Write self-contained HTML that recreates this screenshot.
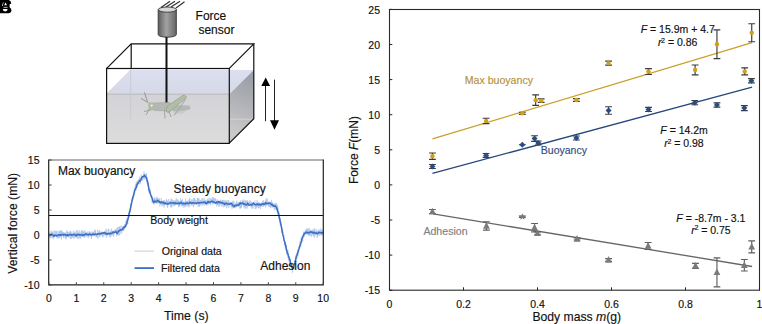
<!DOCTYPE html>
<html><head><meta charset="utf-8">
<style>
html,body{margin:0;padding:0;background:#fff;width:762px;height:324px;overflow:hidden}
svg{display:block;font-family:"Liberation Sans",sans-serif}
text{stroke:currentColor;stroke-width:0.15px;paint-order:stroke}
</style></head>
<body>
<svg width="762" height="324" viewBox="0 0 762 324">
<defs>
<linearGradient id="cyl" x1="0" x2="1" y1="0" y2="0">
<stop offset="0" stop-color="#5e5e5e"/><stop offset="0.45" stop-color="#a2a2a2"/><stop offset="1" stop-color="#666"/>
</linearGradient>
<linearGradient id="front" x1="0" x2="0" y1="0" y2="1">
<stop offset="0" stop-color="#d3d3d7"/><stop offset="1" stop-color="#dcdcdc"/>
</linearGradient>
<linearGradient id="topw" x1="0" x2="0" y1="0" y2="1">
<stop offset="0" stop-color="#dbdff0"/><stop offset="1" stop-color="#d5d8e6"/>
</linearGradient>
<linearGradient id="side" gradientUnits="userSpaceOnUse" x1="232" y1="132" x2="254" y2="78">
<stop offset="0" stop-color="#c9c9ca"/><stop offset="0.55" stop-color="#b0b1b6"/><stop offset="1" stop-color="#9c9ea8"/>
</linearGradient>
</defs>

<!-- panel labels A/B/C overlapped -->
<path d="M0,0 L8.8,0 Q11.3,0.8 11.2,3.4 L9.6,4.6 L9.6,7.2 Q11.6,8.2 11.5,10.8 Q11.2,13 8.6,13.2 L0,13.2 Z" fill="#000"/>
<path d="M5.6,2.5 L7,5.3 L4.2,5.3 Z" fill="#fff"/>
<path d="M1.9,5.9 L3.1,2.3 L3.6,2.5 L2.6,6 Z" fill="#fff"/>
<path d="M3.5,6.9 L7.6,6.9 L7.6,7.6 L3.5,7.6 Z" fill="#fff"/>
<path d="M2.8,9 L7.6,9 Q7.6,11.4 5.2,11.4 Q2.8,11.4 2.8,9 Z" fill="#fff"/>

<!-- ===== tank illustration ===== -->
<polygon points="106.7,94.3 131.2,70 253.8,70 229.3,94.3" fill="url(#topw)"/>
<line x1="106.7" y1="94" x2="131.2" y2="69.5" stroke="#bfc2cc" stroke-width="0.8"/>
<rect x="106.7" y="94.3" width="122.6" height="48.9" fill="url(#front)"/>
<polygon points="229.3,94.3 253.8,70 253.8,118.7 229.3,143.2" fill="url(#side)"/>
<line x1="106.7" y1="94.2" x2="229.3" y2="94.2" stroke="#b4b4ba" stroke-width="1"/>
<line x1="130.7" y1="70" x2="130.7" y2="118.7" stroke="#c4c6d0" stroke-width="0.8"/>
<line x1="229.3" y1="119.2" x2="253.8" y2="119.2" stroke="#d2d2d2" stroke-width="1"/>
<g stroke="#111" stroke-width="1.2" fill="none" stroke-linejoin="miter">
<rect x="106.6" y="68.5" width="122.7" height="74.9"/>
<polyline points="106.7,68.4 131.2,43.9 253.8,43.9 229.3,68.4"/>
<polyline points="253.8,43.9 253.8,118.7 229.3,143.2"/>
<line x1="131.2" y1="43.9" x2="131.2" y2="68.4"/>
</g>
<!-- sensor -->
<g stroke="#333" stroke-width="1.2">
<line x1="161" y1="7.5" x2="170" y2="1.2"/><line x1="166" y1="7" x2="175" y2="1.2"/><line x1="171" y1="7" x2="180" y2="1.2"/><line x1="176" y1="8" x2="184.5" y2="1.8"/>
</g>
<path d="M158.2,9.6 V34.6 A9.05,2.6 0 0 0 176.3,34.6 V9.6 Z" fill="url(#cyl)" stroke="#333" stroke-width="0.9"/>
<ellipse cx="167.25" cy="9.6" rx="9.05" ry="2.6" fill="#d8d8d8" stroke="#333" stroke-width="0.9"/>
<line x1="166.5" y1="37" x2="166.5" y2="104" stroke="#111" stroke-width="2"/>
<!-- grasshopper -->
<g>
<line x1="147.6" y1="102" x2="144.4" y2="92.4" stroke="#8c9088" stroke-width="0.9"/>
<line x1="147.6" y1="102.4" x2="141" y2="98.4" stroke="#8c9088" stroke-width="0.9"/>
<path d="M170,105 L189,105.5 Q191.5,107.5 189.5,109.5 L174,113 Z" fill="#b6b8b4"/>
<path d="M172,111 L186,111.5 Q184,114 176,114 Z" fill="#c8cac6"/>
<path d="M152,103 L170,102.5 L172,106 L171,111 L154,110.5 Z" fill="#b5b7b3" stroke="#9ea09c" stroke-width="0.5"/>
<path d="M167.5,106 L183,95.3 Q186.5,95.3 186.6,97.8 L168.5,112.6 Q166,112.5 166,110 Z" fill="#b2bda8" stroke="#8e9c86" stroke-width="0.6"/>
<path d="M185.5,99.5 L174,115.5" stroke="#a0a49c" stroke-width="1" fill="none"/>
<path d="M148,102.5 Q153,101.5 154.5,104 L154.5,109.5 Q151,111.5 148.5,110 Z" fill="#b0bca6"/>
<circle cx="151.7" cy="105.6" r="1.1" fill="#eef2ea"/>
<path d="M149,109.5 L146,115 M150,110 L144,111.5 M164.5,110 L165,118.5 M169,111 L171,117" stroke="#9a9e98" stroke-width="0.9" fill="none"/>
</g>
<!-- arrows -->
<line x1="265.5" y1="85" x2="265.5" y2="121.2" stroke="#222" stroke-width="1"/>
<polygon points="265.7,77.4 261.3,86 270.1,86" fill="#000"/>
<line x1="274.5" y1="79.6" x2="274.5" y2="121" stroke="#222" stroke-width="1"/>
<polygon points="274.5,129.8 270,120.3 279,120.3" fill="#000"/>
<g font-size="12" fill="#111">
<text x="195.6" y="20.2">Force</text>
<text x="198.4" y="34.4">sensor</text>
</g>

<!-- ===== left chart ===== -->
<path d="M48.90,234.87 L49.04,236.51 L49.17,232.74 L49.31,235.73 L49.45,235.64 L49.59,237.63 L49.72,236.30 L49.86,233.07 L50.00,238.18 L50.13,234.71 L50.27,232.94 L50.41,235.40 L50.55,234.02 L50.68,237.08 L50.82,231.62 L50.96,232.10 L51.10,234.05 L51.23,238.53 L51.37,236.94 L51.51,232.40 L51.64,230.75 L51.78,233.94 L51.92,231.80 L52.06,235.98 L52.19,235.05 L52.33,234.62 L52.47,233.68 L52.60,238.07 L52.74,232.52 L52.88,231.67 L53.02,237.23 L53.15,237.70 L53.29,233.87 L53.43,236.14 L53.57,239.17 L53.70,232.86 L53.84,234.33 L53.98,235.76 L54.11,230.19 L54.25,234.38 L54.39,236.40 L54.53,234.48 L54.66,237.05 L54.80,236.43 L54.94,233.85 L55.07,235.97 L55.21,235.74 L55.35,230.98 L55.49,232.81 L55.62,232.94 L55.76,233.56 L55.90,233.67 L56.04,231.48 L56.17,234.81 L56.31,230.60 L56.45,236.92 L56.58,235.35 L56.72,237.89 L56.86,235.56 L57.00,233.63 L57.13,231.53 L57.27,236.30 L57.41,234.80 L57.54,235.62 L57.68,236.48 L57.82,237.50 L57.96,234.69 L58.09,238.73 L58.23,234.59 L58.37,234.80 L58.51,236.33 L58.64,237.13 L58.78,237.97 L58.92,230.65 L59.05,237.89 L59.19,231.37 L59.33,233.53 L59.47,235.70 L59.60,237.49 L59.74,232.55 L59.88,231.01 L60.01,237.01 L60.15,235.58 L60.29,232.55 L60.43,234.16 L60.56,230.43 L60.70,236.21 L60.84,233.72 L60.98,237.75 L61.11,230.45 L61.25,236.59 L61.39,239.46 L61.52,235.24 L61.66,235.28 L61.80,230.66 L61.94,235.74 L62.07,235.01 L62.21,233.65 L62.35,231.42 L62.48,235.14 L62.62,232.66 L62.76,233.83 L62.90,235.66 L63.03,234.82 L63.17,234.93 L63.31,237.05 L63.45,232.25 L63.58,238.10 L63.72,232.34 L63.86,232.83 L63.99,235.18 L64.13,236.69 L64.27,235.48 L64.41,233.90 L64.54,233.29 L64.68,234.32 L64.82,232.73 L64.95,236.21 L65.09,234.43 L65.23,238.48 L65.37,233.23 L65.50,234.60 L65.64,235.88 L65.78,232.33 L65.92,233.38 L66.05,239.44 L66.19,234.85 L66.33,238.21 L66.46,232.53 L66.60,230.43 L66.74,236.09 L66.88,234.75 L67.01,235.48 L67.15,234.13 L67.29,233.46 L67.42,232.02 L67.56,237.13 L67.70,231.37 L67.84,237.00 L67.97,234.28 L68.11,232.29 L68.25,233.29 L68.39,237.01 L68.52,236.47 L68.66,235.93 L68.80,235.00 L68.93,232.30 L69.07,237.79 L69.21,233.83 L69.35,233.50 L69.48,233.62 L69.62,233.82 L69.76,231.45 L69.89,233.77 L70.03,232.94 L70.17,233.59 L70.31,230.83 L70.44,239.13 L70.58,231.97 L70.72,235.44 L70.85,235.48 L70.99,237.03 L71.13,239.05 L71.27,235.70 L71.40,236.39 L71.54,233.73 L71.68,238.15 L71.82,231.61 L71.95,234.22 L72.09,235.39 L72.23,236.42 L72.36,236.59 L72.50,237.36 L72.64,236.04 L72.78,234.80 L72.91,235.21 L73.05,237.99 L73.19,235.41 L73.32,236.81 L73.46,234.44 L73.60,230.60 L73.74,233.39 L73.87,235.50 L74.01,238.45 L74.15,237.97 L74.29,238.58 L74.42,233.15 L74.56,236.50 L74.70,234.64 L74.83,236.18 L74.97,234.57 L75.11,231.62 L75.25,236.31 L75.38,235.53 L75.52,236.58 L75.66,232.79 L75.79,237.07 L75.93,237.31 L76.07,237.88 L76.21,237.92 L76.34,233.69 L76.48,230.24 L76.62,236.98 L76.76,232.59 L76.89,234.16 L77.03,237.20 L77.17,235.34 L77.30,235.24 L77.44,236.26 L77.58,230.36 L77.72,238.99 L77.85,233.84 L77.99,233.94 L78.13,235.99 L78.26,234.34 L78.40,232.70 L78.54,234.33 L78.68,233.73 L78.81,233.10 L78.95,239.15 L79.09,231.32 L79.23,230.14 L79.36,232.43 L79.50,232.35 L79.64,237.80 L79.77,234.89 L79.91,236.45 L80.05,235.94 L80.19,232.43 L80.32,236.41 L80.46,234.89 L80.60,238.89 L80.73,234.95 L80.87,234.38 L81.01,236.17 L81.15,236.19 L81.28,230.32 L81.42,237.29 L81.56,236.92 L81.70,236.37 L81.83,231.85 L81.97,230.04 L82.11,233.79 L82.24,236.15 L82.38,235.49 L82.52,232.13 L82.66,236.57 L82.79,231.25 L82.93,231.32 L83.07,234.35 L83.20,233.05 L83.34,232.81 L83.48,230.99 L83.62,236.85 L83.75,231.82 L83.89,235.32 L84.03,236.20 L84.17,234.23 L84.30,234.94 L84.44,236.68 L84.58,238.04 L84.71,236.56 L84.85,231.17 L84.99,230.02 L85.13,232.97 L85.26,231.76 L85.40,235.58 L85.54,234.59 L85.67,233.77 L85.81,236.84 L85.95,236.63 L86.09,234.18 L86.22,235.11 L86.36,236.78 L86.50,233.51 L86.64,234.97 L86.77,232.07 L86.91,234.38 L87.05,235.03 L87.18,234.07 L87.32,234.74 L87.46,235.85 L87.60,235.24 L87.73,232.65 L87.87,232.87 L88.01,231.43 L88.14,238.13 L88.28,235.20 L88.42,235.24 L88.56,233.92 L88.69,235.32 L88.83,235.45 L88.97,232.53 L89.11,233.88 L89.24,236.90 L89.38,231.27 L89.52,232.03 L89.65,235.56 L89.79,232.39 L89.93,235.91 L90.07,231.72 L90.20,234.74 L90.34,236.05 L90.48,235.08 L90.61,235.96 L90.75,233.80 L90.89,233.83 L91.03,234.14 L91.16,235.47 L91.30,238.71 L91.44,234.00 L91.57,238.47 L91.71,233.65 L91.85,231.65 L91.99,233.57 L92.12,235.06 L92.26,234.59 L92.40,234.48 L92.54,235.41 L92.67,235.48 L92.81,236.24 L92.95,231.49 L93.08,234.19 L93.22,232.00 L93.36,234.71 L93.50,233.98 L93.63,234.52 L93.77,233.10 L93.91,232.27 L94.04,233.59 L94.18,235.64 L94.32,235.88 L94.46,230.38 L94.59,234.74 L94.73,234.76 L94.87,230.81 L95.01,231.65 L95.14,232.89 L95.28,234.99 L95.42,229.59 L95.55,233.20 L95.69,232.85 L95.83,234.46 L95.97,237.25 L96.10,237.07 L96.24,233.15 L96.38,233.18 L96.51,234.59 L96.65,236.69 L96.79,237.29 L96.93,234.78 L97.06,237.31 L97.20,232.01 L97.34,231.43 L97.48,229.52 L97.61,232.04 L97.75,235.35 L97.89,235.97 L98.02,238.51 L98.16,235.34 L98.30,234.40 L98.44,231.81 L98.57,232.60 L98.71,232.64 L98.85,233.47 L98.98,232.45 L99.12,230.67 L99.26,236.31 L99.40,234.93 L99.53,237.01 L99.67,230.23 L99.81,230.94 L99.95,232.16 L100.08,236.53 L100.22,233.43 L100.36,234.34 L100.49,233.62 L100.63,234.21 L100.77,232.60 L100.91,234.65 L101.04,231.82 L101.18,233.19 L101.32,234.38 L101.45,233.96 L101.59,234.69 L101.73,231.85 L101.87,234.28 L102.00,233.00 L102.14,234.53 L102.28,236.98 L102.42,231.58 L102.55,235.99 L102.69,232.07 L102.83,232.64 L102.96,237.30 L103.10,235.69 L103.24,234.70 L103.38,235.38 L103.51,236.18 L103.65,231.84 L103.79,234.04 L103.92,232.62 L104.06,234.44 L104.20,232.77 L104.34,235.14 L104.47,233.49 L104.61,232.11 L104.75,233.31 L104.89,234.43 L105.02,235.83 L105.16,233.00 L105.30,232.58 L105.43,233.93 L105.57,235.07 L105.71,232.10 L105.85,228.81 L105.98,233.98 L106.12,232.53 L106.26,232.42 L106.39,237.76 L106.53,232.97 L106.67,234.82 L106.81,230.11 L106.94,233.78 L107.08,234.95 L107.22,233.68 L107.36,232.80 L107.49,234.42 L107.63,233.27 L107.77,236.18 L107.90,233.63 L108.04,231.36 L108.18,228.67 L108.32,231.50 L108.45,232.46 L108.59,230.40 L108.73,230.75 L108.86,229.29 L109.00,230.59 L109.14,233.27 L109.28,232.42 L109.41,232.58 L109.55,232.29 L109.69,232.51 L109.83,234.71 L109.96,237.43 L110.10,234.43 L110.24,237.41 L110.37,232.74 L110.51,232.87 L110.65,236.64 L110.79,231.31 L110.92,230.90 L111.06,232.62 L111.20,229.07 L111.33,228.60 L111.47,235.51 L111.61,230.45 L111.75,231.78 L111.88,231.82 L112.02,230.64 L112.16,234.33 L112.29,234.01 L112.43,234.51 L112.57,234.32 L112.71,232.81 L112.84,235.82 L112.98,234.88 L113.12,231.19 L113.26,232.62 L113.39,231.57 L113.53,236.65 L113.67,234.13 L113.80,233.59 L113.94,232.23 L114.08,233.59 L114.22,230.14 L114.35,232.34 L114.49,232.14 L114.63,232.12 L114.76,230.52 L114.90,233.15 L115.04,229.53 L115.18,230.99 L115.31,231.65 L115.45,231.87 L115.59,230.76 L115.73,229.61 L115.86,229.74 L116.00,230.99 L116.14,229.83 L116.27,231.51 L116.41,228.92 L116.55,231.77 L116.69,236.18 L116.82,228.64 L116.96,231.37 L117.10,234.22 L117.23,232.00 L117.37,233.51 L117.51,226.99 L117.65,230.31 L117.78,234.90 L117.92,230.08 L118.06,232.15 L118.20,226.88 L118.33,233.50 L118.47,235.58 L118.61,230.87 L118.74,231.74 L118.88,231.84 L119.02,235.34 L119.16,229.82 L119.29,226.96 L119.43,234.96 L119.57,227.97 L119.70,231.83 L119.84,225.99 L119.98,229.45 L120.12,230.80 L120.25,227.83 L120.39,229.08 L120.53,231.53 L120.67,228.55 L120.80,231.23 L120.94,234.05 L121.08,225.47 L121.21,230.70 L121.35,231.22 L121.49,229.03 L121.63,233.23 L121.76,232.65 L121.90,230.62 L122.04,230.55 L122.17,229.11 L122.31,226.63 L122.45,230.11 L122.59,227.82 L122.72,227.47 L122.86,231.15 L123.00,228.08 L123.14,230.60 L123.27,225.98 L123.41,227.23 L123.55,228.11 L123.68,231.05 L123.82,227.66 L123.96,229.53 L124.10,226.11 L124.23,227.85 L124.37,229.27 L124.51,225.13 L124.64,225.37 L124.78,228.11 L124.92,223.93 L125.06,227.00 L125.19,226.80 L125.33,225.60 L125.47,227.35 L125.61,226.43 L125.74,225.58 L125.88,221.55 L126.02,221.40 L126.15,225.13 L126.29,220.70 L126.43,224.20 L126.57,223.03 L126.70,221.67 L126.84,222.69 L126.98,218.32 L127.11,221.75 L127.25,224.46 L127.39,218.30 L127.53,221.64 L127.66,220.87 L127.80,224.15 L127.94,216.87 L128.08,216.76 L128.21,216.27 L128.35,215.34 L128.49,213.21 L128.62,216.59 L128.76,213.85 L128.90,217.10 L129.04,215.70 L129.17,212.00 L129.31,212.93 L129.45,216.16 L129.58,211.70 L129.72,212.27 L129.86,213.05 L130.00,209.58 L130.13,210.82 L130.27,212.79 L130.41,211.11 L130.55,203.98 L130.68,210.71 L130.82,206.15 L130.96,204.63 L131.09,203.92 L131.23,207.46 L131.37,204.78 L131.51,203.09 L131.64,200.95 L131.78,203.55 L131.92,204.07 L132.05,198.58 L132.19,197.80 L132.33,198.90 L132.47,200.55 L132.60,197.72 L132.74,197.84 L132.88,195.65 L133.02,199.79 L133.15,196.17 L133.29,196.24 L133.43,197.83 L133.56,194.30 L133.70,194.15 L133.84,194.60 L133.98,192.24 L134.11,195.77 L134.25,192.15 L134.39,190.51 L134.52,190.29 L134.66,187.96 L134.80,192.61 L134.94,193.01 L135.07,188.79 L135.21,188.01 L135.35,184.24 L135.48,187.06 L135.62,190.12 L135.76,186.05 L135.90,189.48 L136.03,190.63 L136.17,182.49 L136.31,185.97 L136.45,184.80 L136.58,184.85 L136.72,181.75 L136.86,184.89 L136.99,182.50 L137.13,187.26 L137.27,187.79 L137.41,181.15 L137.54,180.75 L137.68,182.63 L137.82,182.98 L137.95,182.82 L138.09,184.49 L138.23,179.31 L138.37,181.11 L138.50,181.29 L138.64,181.40 L138.78,179.72 L138.92,180.77 L139.05,180.05 L139.19,184.19 L139.33,180.24 L139.46,176.71 L139.60,182.21 L139.74,181.16 L139.88,178.69 L140.01,178.37 L140.15,178.94 L140.29,183.81 L140.42,178.87 L140.56,182.49 L140.70,181.51 L140.84,178.25 L140.97,179.97 L141.11,177.31 L141.25,174.46 L141.39,177.04 L141.52,176.99 L141.66,180.47 L141.80,179.75 L141.93,180.55 L142.07,179.20 L142.21,180.32 L142.35,179.20 L142.48,178.03 L142.62,179.67 L142.76,180.46 L142.89,180.18 L143.03,175.95 L143.17,176.69 L143.31,174.37 L143.44,174.18 L143.58,177.15 L143.72,174.73 L143.86,179.33 L143.99,171.44 L144.13,173.10 L144.27,176.13 L144.40,178.11 L144.54,174.49 L144.68,179.53 L144.82,177.27 L144.95,174.03 L145.09,175.74 L145.23,177.21 L145.36,174.16 L145.50,178.83 L145.64,176.05 L145.78,178.01 L145.91,178.99 L146.05,176.24 L146.19,179.71 L146.33,173.40 L146.46,179.19 L146.60,173.74 L146.74,181.28 L146.87,178.05 L147.01,182.71 L147.15,183.63 L147.29,180.86 L147.42,180.29 L147.56,185.28 L147.70,180.35 L147.83,185.41 L147.97,183.92 L148.11,183.96 L148.25,184.08 L148.38,190.06 L148.52,182.98 L148.66,185.95 L148.80,188.78 L148.93,190.72 L149.07,192.83 L149.21,192.68 L149.34,188.93 L149.48,191.34 L149.62,193.53 L149.76,192.59 L149.89,188.30 L150.03,192.98 L150.17,193.97 L150.30,190.03 L150.44,192.45 L150.58,193.80 L150.72,195.69 L150.85,198.23 L150.99,197.79 L151.13,196.65 L151.27,196.48 L151.40,195.60 L151.54,195.58 L151.68,196.74 L151.81,197.13 L151.95,200.23 L152.09,202.81 L152.23,199.82 L152.36,201.13 L152.50,200.79 L152.64,200.28 L152.77,202.80 L152.91,202.84 L153.05,200.91 L153.19,200.76 L153.32,202.84 L153.46,200.58 L153.60,202.53 L153.74,204.52 L153.87,202.08 L154.01,197.89 L154.15,203.59 L154.28,199.39 L154.42,198.86 L154.56,198.54 L154.70,203.71 L154.83,197.30 L154.97,201.49 L155.11,202.26 L155.24,202.16 L155.38,200.23 L155.52,201.42 L155.66,201.86 L155.79,198.49 L155.93,202.91 L156.07,203.54 L156.20,199.32 L156.34,199.44 L156.48,198.47 L156.62,203.25 L156.75,198.32 L156.89,199.58 L157.03,196.61 L157.17,203.29 L157.30,199.90 L157.44,200.93 L157.58,203.87 L157.71,202.01 L157.85,197.98 L157.99,201.68 L158.13,202.36 L158.26,198.89 L158.40,198.72 L158.54,198.84 L158.67,202.95 L158.81,201.41 L158.95,199.07 L159.09,202.97 L159.22,203.29 L159.36,199.85 L159.50,198.31 L159.64,204.53 L159.77,206.52 L159.91,205.32 L160.05,204.37 L160.18,202.44 L160.32,200.79 L160.46,202.54 L160.60,203.83 L160.73,201.94 L160.87,204.49 L161.01,202.47 L161.14,203.85 L161.28,197.95 L161.42,200.65 L161.56,204.40 L161.69,204.81 L161.83,203.59 L161.97,206.34 L162.11,204.32 L162.24,204.38 L162.38,200.77 L162.52,203.76 L162.65,204.62 L162.79,205.89 L162.93,205.56 L163.07,203.10 L163.20,203.48 L163.34,200.48 L163.48,204.49 L163.61,200.73 L163.75,202.57 L163.89,203.20 L164.03,207.73 L164.16,206.15 L164.30,201.57 L164.44,200.09 L164.58,202.76 L164.71,201.51 L164.85,204.13 L164.99,204.05 L165.12,204.70 L165.26,201.00 L165.40,202.42 L165.54,203.71 L165.67,203.92 L165.81,201.92 L165.95,202.44 L166.08,205.03 L166.22,199.29 L166.36,202.57 L166.50,203.12 L166.63,199.81 L166.77,200.82 L166.91,203.32 L167.05,201.91 L167.18,205.52 L167.32,204.55 L167.46,207.60 L167.59,200.35 L167.73,207.36 L167.87,201.55 L168.01,204.94 L168.14,205.27 L168.28,203.50 L168.42,202.45 L168.55,201.67 L168.69,199.05 L168.83,202.23 L168.97,201.05 L169.10,204.37 L169.24,201.41 L169.38,202.66 L169.52,204.05 L169.65,203.21 L169.79,203.13 L169.93,202.55 L170.06,202.08 L170.20,204.12 L170.34,204.63 L170.48,201.28 L170.61,206.77 L170.75,204.34 L170.89,199.45 L171.02,207.43 L171.16,204.49 L171.30,201.37 L171.44,206.63 L171.57,198.41 L171.71,207.40 L171.85,199.66 L171.99,199.39 L172.12,200.82 L172.26,203.38 L172.40,202.07 L172.53,204.88 L172.67,201.04 L172.81,205.37 L172.95,203.46 L173.08,200.60 L173.22,205.34 L173.36,203.65 L173.49,202.45 L173.63,205.83 L173.77,200.19 L173.91,202.04 L174.04,206.21 L174.18,202.90 L174.32,204.53 L174.46,204.26 L174.59,202.60 L174.73,204.36 L174.87,200.59 L175.00,204.34 L175.14,200.54 L175.28,202.85 L175.42,200.83 L175.55,203.98 L175.69,203.90 L175.83,205.36 L175.96,201.47 L176.10,200.66 L176.24,198.28 L176.38,199.88 L176.51,202.22 L176.65,203.26 L176.79,201.91 L176.92,202.85 L177.06,199.50 L177.20,200.67 L177.34,204.68 L177.47,204.35 L177.61,199.73 L177.75,202.12 L177.89,203.34 L178.02,200.15 L178.16,203.69 L178.30,203.45 L178.43,203.86 L178.57,207.24 L178.71,200.89 L178.85,205.56 L178.98,204.12 L179.12,204.52 L179.26,201.21 L179.39,203.00 L179.53,202.82 L179.67,206.63 L179.81,203.05 L179.94,206.18 L180.08,202.17 L180.22,202.04 L180.36,202.91 L180.49,198.37 L180.63,201.69 L180.77,201.54 L180.90,202.56 L181.04,203.32 L181.18,200.72 L181.32,200.41 L181.45,205.82 L181.59,200.53 L181.73,201.75 L181.86,200.74 L182.00,201.86 L182.14,205.71 L182.28,205.55 L182.41,198.81 L182.55,202.35 L182.69,206.11 L182.83,202.14 L182.96,203.74 L183.10,207.08 L183.24,207.44 L183.37,206.55 L183.51,202.33 L183.65,203.05 L183.79,203.51 L183.92,202.31 L184.06,201.60 L184.20,207.46 L184.33,203.64 L184.47,204.83 L184.61,205.74 L184.75,204.20 L184.88,203.25 L185.02,203.58 L185.16,206.25 L185.30,204.07 L185.43,198.49 L185.57,205.36 L185.71,206.79 L185.84,202.38 L185.98,201.66 L186.12,201.95 L186.26,205.51 L186.39,200.74 L186.53,204.75 L186.67,205.53 L186.80,204.33 L186.94,203.20 L187.08,201.35 L187.22,201.54 L187.35,202.99 L187.49,200.84 L187.63,202.74 L187.77,200.91 L187.90,206.07 L188.04,206.45 L188.18,201.16 L188.31,206.02 L188.45,203.57 L188.59,203.11 L188.73,203.98 L188.86,203.89 L189.00,199.73 L189.14,207.36 L189.27,200.86 L189.41,198.35 L189.55,202.79 L189.69,202.88 L189.82,201.19 L189.96,198.71 L190.10,205.49 L190.24,202.61 L190.37,203.22 L190.51,201.54 L190.65,202.43 L190.78,201.30 L190.92,203.73 L191.06,202.66 L191.20,204.27 L191.33,204.25 L191.47,203.07 L191.61,203.07 L191.74,205.38 L191.88,199.20 L192.02,203.03 L192.16,205.84 L192.29,200.24 L192.43,204.39 L192.57,201.56 L192.71,202.74 L192.84,202.13 L192.98,202.30 L193.12,203.97 L193.25,202.58 L193.39,198.17 L193.53,207.16 L193.67,202.50 L193.80,201.67 L193.94,205.01 L194.08,205.72 L194.21,198.13 L194.35,203.46 L194.49,198.12 L194.63,201.40 L194.76,202.43 L194.90,201.53 L195.04,201.16 L195.18,199.93 L195.31,201.60 L195.45,202.25 L195.59,202.17 L195.72,199.52 L195.86,200.71 L196.00,204.80 L196.14,203.97 L196.27,201.79 L196.41,203.93 L196.55,203.37 L196.68,204.67 L196.82,203.10 L196.96,201.55 L197.10,200.26 L197.23,202.48 L197.37,198.00 L197.51,202.67 L197.64,198.00 L197.78,200.25 L197.92,201.38 L198.06,203.62 L198.19,207.00 L198.33,202.85 L198.47,202.10 L198.61,198.17 L198.74,205.60 L198.88,198.21 L199.02,203.07 L199.15,200.87 L199.29,207.00 L199.43,202.19 L199.57,203.27 L199.70,200.96 L199.84,202.29 L199.98,205.07 L200.11,200.37 L200.25,200.94 L200.39,201.16 L200.53,200.23 L200.66,200.02 L200.80,202.55 L200.94,205.55 L201.08,205.62 L201.21,199.46 L201.35,200.90 L201.49,202.27 L201.62,203.48 L201.76,202.43 L201.90,202.44 L202.04,203.26 L202.17,204.07 L202.31,198.00 L202.45,201.99 L202.58,203.86 L202.72,205.43 L202.86,204.13 L203.00,200.88 L203.13,200.79 L203.27,202.99 L203.41,202.38 L203.55,203.19 L203.68,204.99 L203.82,199.57 L203.96,201.66 L204.09,198.00 L204.23,204.20 L204.37,202.81 L204.51,200.51 L204.64,203.05 L204.78,205.62 L204.92,204.63 L205.05,202.27 L205.19,201.73 L205.33,202.71 L205.47,200.24 L205.60,200.27 L205.74,201.77 L205.88,202.44 L206.02,203.07 L206.15,201.26 L206.29,200.43 L206.43,202.36 L206.56,201.49 L206.70,203.23 L206.84,205.68 L206.98,204.75 L207.11,200.78 L207.25,201.49 L207.39,198.92 L207.52,202.37 L207.66,200.55 L207.80,199.52 L207.94,200.26 L208.07,203.85 L208.21,202.88 L208.35,202.14 L208.49,204.63 L208.62,201.32 L208.76,200.06 L208.90,203.42 L209.03,197.87 L209.17,202.94 L209.31,202.72 L209.45,202.77 L209.58,203.80 L209.72,201.25 L209.86,202.12 L209.99,198.40 L210.13,200.74 L210.27,200.88 L210.41,202.56 L210.54,205.22 L210.68,202.21 L210.82,203.90 L210.96,199.82 L211.09,202.00 L211.23,198.16 L211.37,200.23 L211.50,199.98 L211.64,201.32 L211.78,201.34 L211.92,200.32 L212.05,199.68 L212.19,203.33 L212.33,200.60 L212.46,197.19 L212.60,201.86 L212.74,202.21 L212.88,203.17 L213.01,204.84 L213.15,198.89 L213.29,201.40 L213.43,200.84 L213.56,197.37 L213.70,197.05 L213.84,203.58 L213.97,199.23 L214.11,200.23 L214.25,200.76 L214.39,200.61 L214.52,201.77 L214.66,198.17 L214.80,200.39 L214.93,201.03 L215.07,199.03 L215.21,199.84 L215.35,200.86 L215.48,201.18 L215.62,198.00 L215.76,200.83 L215.90,202.21 L216.03,203.97 L216.17,202.84 L216.31,204.46 L216.44,201.88 L216.58,201.57 L216.72,206.69 L216.86,202.17 L216.99,200.78 L217.13,201.90 L217.27,204.45 L217.40,199.47 L217.54,203.92 L217.68,205.15 L217.82,204.85 L217.95,202.48 L218.09,200.26 L218.23,199.88 L218.36,202.06 L218.50,205.25 L218.64,204.07 L218.78,204.64 L218.91,203.05 L219.05,206.67 L219.19,202.46 L219.33,201.29 L219.46,203.10 L219.60,201.76 L219.74,204.94 L219.87,206.13 L220.01,204.32 L220.15,200.31 L220.29,200.63 L220.42,204.00 L220.56,200.30 L220.70,203.76 L220.83,199.66 L220.97,202.01 L221.11,204.14 L221.25,201.36 L221.38,204.92 L221.52,205.31 L221.66,206.50 L221.80,202.68 L221.93,203.39 L222.07,203.46 L222.21,204.22 L222.34,200.07 L222.48,204.27 L222.62,204.96 L222.76,200.54 L222.89,200.16 L223.03,202.61 L223.17,207.30 L223.30,204.74 L223.44,202.03 L223.58,203.38 L223.72,199.94 L223.85,206.52 L223.99,201.93 L224.13,204.88 L224.27,200.51 L224.40,203.66 L224.54,201.19 L224.68,204.98 L224.81,206.70 L224.95,206.04 L225.09,204.92 L225.23,205.88 L225.36,200.88 L225.50,200.58 L225.64,202.99 L225.77,205.95 L225.91,203.90 L226.05,205.19 L226.19,200.39 L226.32,202.96 L226.46,202.58 L226.60,204.59 L226.74,208.21 L226.87,205.46 L227.01,206.25 L227.15,202.91 L227.28,203.54 L227.42,205.57 L227.56,204.66 L227.70,200.27 L227.83,205.97 L227.97,205.89 L228.11,204.35 L228.24,205.42 L228.38,204.82 L228.52,202.67 L228.66,199.99 L228.79,207.90 L228.93,203.95 L229.07,203.83 L229.21,204.12 L229.34,204.37 L229.48,204.72 L229.62,201.71 L229.75,205.03 L229.89,204.28 L230.03,204.04 L230.17,203.86 L230.30,204.54 L230.44,201.97 L230.58,204.29 L230.71,203.94 L230.85,204.50 L230.99,206.70 L231.13,206.37 L231.26,206.93 L231.40,204.19 L231.54,206.29 L231.68,207.13 L231.81,204.26 L231.95,203.67 L232.09,208.88 L232.22,201.17 L232.36,204.96 L232.50,205.33 L232.64,202.75 L232.77,205.05 L232.91,206.62 L233.05,200.82 L233.18,207.80 L233.32,205.66 L233.46,203.59 L233.60,207.96 L233.73,205.84 L233.87,204.80 L234.01,201.23 L234.15,207.74 L234.28,205.80 L234.42,204.17 L234.56,205.44 L234.69,208.29 L234.83,204.63 L234.97,205.27 L235.11,204.48 L235.24,202.90 L235.38,203.13 L235.52,204.46 L235.65,204.64 L235.79,207.78 L235.93,205.57 L236.07,204.74 L236.20,206.10 L236.34,204.95 L236.48,206.99 L236.62,201.64 L236.75,200.56 L236.89,205.90 L237.03,204.09 L237.16,205.48 L237.30,202.08 L237.44,203.91 L237.58,204.68 L237.71,205.32 L237.85,204.50 L237.99,207.00 L238.12,203.19 L238.26,206.28 L238.40,203.44 L238.54,204.31 L238.67,202.11 L238.81,204.57 L238.95,202.20 L239.08,206.54 L239.22,203.06 L239.36,204.90 L239.50,203.92 L239.63,204.16 L239.77,202.18 L239.91,208.76 L240.05,203.49 L240.18,207.55 L240.32,201.44 L240.46,208.55 L240.59,206.34 L240.73,207.81 L240.87,200.32 L241.01,206.90 L241.14,203.75 L241.28,205.21 L241.42,208.06 L241.55,204.77 L241.69,202.53 L241.83,204.44 L241.97,201.91 L242.10,204.84 L242.24,204.01 L242.38,204.90 L242.52,203.26 L242.65,199.77 L242.79,203.23 L242.93,203.61 L243.06,205.44 L243.20,205.75 L243.34,200.76 L243.48,206.56 L243.61,206.12 L243.75,204.28 L243.89,205.03 L244.02,199.67 L244.16,208.57 L244.30,203.26 L244.44,202.48 L244.57,206.60 L244.71,205.54 L244.85,203.12 L244.99,200.43 L245.12,206.17 L245.26,207.65 L245.40,201.91 L245.53,200.68 L245.67,204.86 L245.81,208.61 L245.95,200.85 L246.08,204.56 L246.22,201.59 L246.36,204.22 L246.49,204.97 L246.63,205.15 L246.77,200.82 L246.91,200.91 L247.04,208.64 L247.18,206.25 L247.32,200.15 L247.46,204.98 L247.59,207.21 L247.73,204.15 L247.87,204.40 L248.00,204.38 L248.14,205.24 L248.28,204.87 L248.42,205.20 L248.55,203.42 L248.69,206.01 L248.83,204.83 L248.96,204.51 L249.10,201.25 L249.24,203.35 L249.38,204.44 L249.51,202.99 L249.65,203.29 L249.79,201.75 L249.93,203.07 L250.06,200.17 L250.20,201.19 L250.34,204.31 L250.47,205.15 L250.61,202.24 L250.75,203.06 L250.89,204.44 L251.02,207.55 L251.16,208.36 L251.30,203.45 L251.43,202.51 L251.57,202.44 L251.71,207.14 L251.85,201.92 L251.98,205.46 L252.12,203.39 L252.26,203.33 L252.40,206.08 L252.53,205.62 L252.67,208.79 L252.81,206.36 L252.94,208.36 L253.08,203.33 L253.22,204.18 L253.36,202.27 L253.49,203.54 L253.63,205.77 L253.77,203.57 L253.90,205.24 L254.04,203.00 L254.18,203.67 L254.32,206.61 L254.45,204.39 L254.59,204.27 L254.73,205.10 L254.87,202.40 L255.00,200.57 L255.14,205.26 L255.28,205.22 L255.41,208.94 L255.55,204.74 L255.69,205.44 L255.83,208.97 L255.96,203.82 L256.10,203.15 L256.24,206.14 L256.37,205.33 L256.51,206.68 L256.65,202.79 L256.79,207.93 L256.92,205.23 L257.06,200.14 L257.20,204.42 L257.34,203.50 L257.47,204.89 L257.61,207.21 L257.75,204.64 L257.88,203.66 L258.02,206.89 L258.16,203.82 L258.30,201.80 L258.43,202.20 L258.57,208.18 L258.71,206.82 L258.84,208.26 L258.98,202.23 L259.12,203.27 L259.26,203.07 L259.39,206.64 L259.53,207.29 L259.67,204.50 L259.81,204.46 L259.94,206.61 L260.08,204.38 L260.22,203.22 L260.35,204.12 L260.49,206.93 L260.63,209.05 L260.77,205.09 L260.90,204.10 L261.04,205.01 L261.18,205.35 L261.31,205.90 L261.45,202.70 L261.59,204.39 L261.73,203.95 L261.86,206.37 L262.00,205.54 L262.14,203.74 L262.27,206.33 L262.41,206.86 L262.55,204.73 L262.69,201.25 L262.82,203.48 L262.96,200.58 L263.10,204.12 L263.24,204.49 L263.37,206.88 L263.51,205.01 L263.65,200.44 L263.78,202.89 L263.92,201.94 L264.06,201.96 L264.20,203.53 L264.33,203.93 L264.47,203.16 L264.61,201.88 L264.74,202.32 L264.88,202.20 L265.02,202.92 L265.16,204.96 L265.29,203.78 L265.43,205.27 L265.57,200.85 L265.71,207.57 L265.84,203.52 L265.98,198.49 L266.12,203.72 L266.25,205.46 L266.39,202.91 L266.53,199.93 L266.67,203.15 L266.80,201.37 L266.94,202.48 L267.08,203.57 L267.21,198.28 L267.35,202.66 L267.49,204.07 L267.63,204.01 L267.76,202.09 L267.90,202.07 L268.04,201.30 L268.18,202.76 L268.31,206.35 L268.45,201.97 L268.59,203.91 L268.72,203.90 L268.86,206.63 L269.00,204.63 L269.14,205.02 L269.27,203.51 L269.41,206.74 L269.55,203.40 L269.68,203.28 L269.82,206.12 L269.96,205.05 L270.10,205.62 L270.23,201.69 L270.37,208.27 L270.51,204.59 L270.65,207.60 L270.78,204.88 L270.92,202.04 L271.06,205.41 L271.19,203.75 L271.33,206.04 L271.47,199.85 L271.61,202.23 L271.74,201.82 L271.88,207.42 L272.02,206.99 L272.15,202.16 L272.29,205.10 L272.43,205.32 L272.57,204.06 L272.70,207.71 L272.84,203.22 L272.98,205.00 L273.12,204.03 L273.25,206.70 L273.39,204.11 L273.53,206.92 L273.66,203.26 L273.80,202.94 L273.94,203.51 L274.08,204.47 L274.21,204.29 L274.35,210.29 L274.49,203.98 L274.62,206.55 L274.76,205.80 L274.90,206.73 L275.04,209.29 L275.17,207.45 L275.31,204.90 L275.45,203.35 L275.59,208.11 L275.72,208.90 L275.86,203.76 L276.00,209.17 L276.13,202.85 L276.27,207.39 L276.41,209.66 L276.55,205.62 L276.68,204.18 L276.82,211.38 L276.96,204.80 L277.09,209.11 L277.23,205.54 L277.37,210.21 L277.51,213.36 L277.64,209.15 L277.78,208.66 L277.92,206.71 L278.06,207.80 L278.19,210.57 L278.33,213.14 L278.47,214.24 L278.60,214.20 L278.74,215.87 L278.88,215.08 L279.02,219.43 L279.15,215.18 L279.29,216.34 L279.43,212.47 L279.56,215.96 L279.70,219.44 L279.84,217.79 L279.98,222.51 L280.11,221.80 L280.25,225.34 L280.39,218.60 L280.53,221.20 L280.66,225.87 L280.80,224.06 L280.94,222.48 L281.07,224.20 L281.21,225.14 L281.35,228.63 L281.49,228.83 L281.62,227.88 L281.76,226.71 L281.90,231.34 L282.03,232.70 L282.17,228.29 L282.31,233.66 L282.45,229.83 L282.58,232.41 L282.72,231.67 L282.86,230.42 L282.99,233.49 L283.13,233.99 L283.27,238.49 L283.41,238.69 L283.54,236.37 L283.68,235.06 L283.82,236.07 L283.96,235.40 L284.09,239.73 L284.23,240.47 L284.37,239.17 L284.50,241.89 L284.64,242.57 L284.78,245.29 L284.92,241.20 L285.05,246.34 L285.19,243.28 L285.33,248.12 L285.46,242.96 L285.60,248.25 L285.74,244.53 L285.88,250.51 L286.01,248.42 L286.15,245.28 L286.29,250.24 L286.43,248.78 L286.56,250.51 L286.70,254.43 L286.84,249.74 L286.97,249.96 L287.11,253.93 L287.25,250.64 L287.39,254.23 L287.52,255.19 L287.66,253.42 L287.80,255.47 L287.93,249.94 L288.07,258.43 L288.21,253.77 L288.35,253.71 L288.48,260.89 L288.62,260.84 L288.76,256.17 L288.90,259.02 L289.03,257.50 L289.17,256.21 L289.31,260.03 L289.44,262.00 L289.58,264.52 L289.72,259.97 L289.86,262.93 L289.99,260.55 L290.13,261.15 L290.27,265.20 L290.40,258.62 L290.54,260.47 L290.68,261.42 L290.82,266.40 L290.95,265.07 L291.09,265.80 L291.23,265.91 L291.37,267.92 L291.50,264.83 L291.64,265.71 L291.78,265.81 L291.91,268.19 L292.05,264.56 L292.19,267.45 L292.33,272.79 L292.46,270.14 L292.60,268.61 L292.74,266.00 L292.87,268.55 L293.01,268.13 L293.15,268.76 L293.29,265.46 L293.42,267.67 L293.56,267.71 L293.70,267.72 L293.84,264.49 L293.97,266.64 L294.11,268.91 L294.25,263.43 L294.38,266.11 L294.52,263.27 L294.66,262.76 L294.80,260.42 L294.93,260.30 L295.07,263.47 L295.21,262.07 L295.34,264.13 L295.48,256.97 L295.62,259.28 L295.76,256.66 L295.89,260.04 L296.03,263.35 L296.17,254.93 L296.31,257.69 L296.44,257.12 L296.58,256.82 L296.72,255.02 L296.85,254.80 L296.99,259.10 L297.13,252.60 L297.27,255.78 L297.40,255.19 L297.54,249.81 L297.68,251.17 L297.81,253.55 L297.95,256.52 L298.09,251.53 L298.23,250.23 L298.36,251.17 L298.50,253.34 L298.64,251.87 L298.78,252.46 L298.91,248.71 L299.05,246.90 L299.19,245.98 L299.32,249.49 L299.46,246.86 L299.60,245.69 L299.74,247.64 L299.87,246.37 L300.01,241.09 L300.15,244.69 L300.28,242.72 L300.42,245.24 L300.56,243.72 L300.70,247.23 L300.83,242.98 L300.97,239.80 L301.11,237.54 L301.25,238.90 L301.38,239.60 L301.52,240.58 L301.66,241.61 L301.79,240.17 L301.93,237.99 L302.07,240.69 L302.21,236.38 L302.34,240.25 L302.48,241.71 L302.62,239.66 L302.75,240.81 L302.89,239.83 L303.03,233.87 L303.17,236.55 L303.30,235.28 L303.44,232.85 L303.58,232.30 L303.71,235.94 L303.85,231.50 L303.99,233.30 L304.13,233.84 L304.26,232.53 L304.40,236.66 L304.54,235.16 L304.68,233.58 L304.81,231.91 L304.95,234.06 L305.09,233.46 L305.22,230.93 L305.36,229.88 L305.50,231.28 L305.64,230.09 L305.77,233.80 L305.91,233.53 L306.05,232.06 L306.18,233.40 L306.32,233.81 L306.46,228.90 L306.60,233.01 L306.73,234.68 L306.87,231.41 L307.01,228.39 L307.15,232.34 L307.28,229.76 L307.42,233.53 L307.56,233.65 L307.69,234.11 L307.83,232.89 L307.97,228.44 L308.11,235.18 L308.24,228.91 L308.38,234.87 L308.52,233.13 L308.65,230.74 L308.79,231.21 L308.93,232.00 L309.07,236.35 L309.20,231.83 L309.34,234.96 L309.48,228.17 L309.62,233.15 L309.75,232.26 L309.89,235.27 L310.03,233.78 L310.16,235.61 L310.30,230.51 L310.44,233.31 L310.58,231.47 L310.71,234.28 L310.85,233.88 L310.99,229.86 L311.12,234.95 L311.26,236.83 L311.40,231.87 L311.54,235.36 L311.67,233.79 L311.81,230.76 L311.95,234.66 L312.09,230.85 L312.22,234.37 L312.36,229.49 L312.50,229.87 L312.63,233.92 L312.77,233.35 L312.91,234.75 L313.05,232.43 L313.18,230.31 L313.32,236.15 L313.46,230.84 L313.59,235.90 L313.73,234.86 L313.87,236.96 L314.01,228.44 L314.14,232.82 L314.28,232.41 L314.42,234.49 L314.56,230.57 L314.69,237.48 L314.83,232.93 L314.97,228.50 L315.10,233.86 L315.24,232.95 L315.38,231.48 L315.52,234.81 L315.65,232.93 L315.79,230.81 L315.93,232.53 L316.06,232.13 L316.20,233.75 L316.34,232.25 L316.48,232.83 L316.61,229.68 L316.75,231.32 L316.89,233.49 L317.03,237.44 L317.16,231.32 L317.30,231.23 L317.44,234.99 L317.57,237.42 L317.71,235.49 L317.85,230.83 L317.99,235.30 L318.12,233.94 L318.26,232.40 L318.40,230.14 L318.53,232.93 L318.67,233.11 L318.81,234.12 L318.95,229.21 L319.08,230.48 L319.22,233.08 L319.36,236.01 L319.50,234.64 L319.63,231.55 L319.77,234.48 L319.91,230.84 L320.04,232.03 L320.18,232.18 L320.32,231.37 L320.46,231.71 L320.59,234.75 L320.73,233.56 L320.87,228.32 L321.00,235.53 L321.14,233.88 L321.28,230.41 L321.42,233.16 L321.55,234.63 L321.69,235.77 L321.83,231.59 L321.97,230.49 L322.10,229.63 L322.24,232.66 L322.38,230.42 L322.51,235.09 L322.65,232.39 L322.79,234.29 L322.93,232.37 L323.06,231.07 L323.20,230.34" fill="none" stroke="#a9c2ec" stroke-width="0.8" opacity="0.7"/>
<path d="M48.90,234.49 L49.17,234.70 L49.45,234.81 L49.72,235.04 L50.00,235.10 L50.27,234.76 L50.55,234.68 L50.82,234.72 L51.09,234.41 L51.37,234.35 L51.64,234.64 L51.92,234.74 L52.19,234.62 L52.47,234.59 L52.74,234.97 L53.01,235.10 L53.29,235.33 L53.56,235.62 L53.84,236.18 L54.11,235.95 L54.39,236.14 L54.66,235.67 L54.93,235.36 L55.21,235.01 L55.48,235.52 L55.76,235.37 L56.03,235.45 L56.31,235.47 L56.58,235.77 L56.85,235.34 L57.13,235.44 L57.40,235.62 L57.68,235.42 L57.95,235.27 L58.23,235.18 L58.50,234.78 L58.77,234.75 L59.05,235.01 L59.32,234.82 L59.60,234.81 L59.87,235.28 L60.15,235.15 L60.42,234.84 L60.69,235.21 L60.97,235.05 L61.24,234.76 L61.52,234.93 L61.79,234.80 L62.07,234.30 L62.34,234.76 L62.61,234.78 L62.89,234.51 L63.16,234.98 L63.44,235.00 L63.71,234.74 L63.99,234.61 L64.26,234.41 L64.54,234.51 L64.81,234.62 L65.08,234.70 L65.36,234.81 L65.63,235.38 L65.91,235.36 L66.18,235.44 L66.46,235.14 L66.73,234.91 L67.00,234.93 L67.28,234.97 L67.55,234.78 L67.83,235.42 L68.10,235.76 L68.38,235.49 L68.65,235.03 L68.92,235.02 L69.20,234.65 L69.47,234.62 L69.75,234.65 L70.02,234.59 L70.30,234.83 L70.57,234.82 L70.84,234.65 L71.12,234.62 L71.39,234.99 L71.67,235.14 L71.94,235.07 L72.22,235.24 L72.49,234.95 L72.76,234.76 L73.04,234.52 L73.31,234.36 L73.59,234.33 L73.86,234.35 L74.14,234.49 L74.41,234.35 L74.68,234.78 L74.96,234.62 L75.23,235.22 L75.51,235.66 L75.78,235.85 L76.06,235.76 L76.33,235.80 L76.60,234.92 L76.88,234.65 L77.15,234.71 L77.43,234.46 L77.70,234.37 L77.98,234.90 L78.25,234.75 L78.52,234.45 L78.80,234.37 L79.07,234.69 L79.35,234.66 L79.62,234.60 L79.90,234.97 L80.17,235.02 L80.44,234.97 L80.72,234.73 L80.99,234.69 L81.27,234.43 L81.54,234.60 L81.82,234.43 L82.09,235.07 L82.36,235.35 L82.64,235.28 L82.91,235.61 L83.19,235.39 L83.46,235.33 L83.74,234.90 L84.01,235.16 L84.28,234.51 L84.56,234.65 L84.83,234.60 L85.11,234.48 L85.38,233.97 L85.66,234.14 L85.93,234.22 L86.20,233.91 L86.48,234.39 L86.75,234.45 L87.03,234.55 L87.30,234.49 L87.58,234.62 L87.85,234.53 L88.12,235.04 L88.40,234.64 L88.67,234.65 L88.95,234.25 L89.22,234.10 L89.50,233.96 L89.77,234.30 L90.04,234.38 L90.32,234.58 L90.59,234.66 L90.87,234.57 L91.14,234.79 L91.42,234.84 L91.69,234.47 L91.97,234.52 L92.24,234.68 L92.51,234.29 L92.79,233.80 L93.06,234.47 L93.34,234.36 L93.61,234.26 L93.89,234.72 L94.16,234.86 L94.43,234.53 L94.71,234.46 L94.98,234.48 L95.26,233.98 L95.53,234.26 L95.81,234.27 L96.08,234.53 L96.35,234.62 L96.63,234.42 L96.90,234.40 L97.18,234.30 L97.45,234.05 L97.73,233.87 L98.00,234.27 L98.27,234.01 L98.55,234.12 L98.82,234.12 L99.10,233.99 L99.37,233.60 L99.65,233.56 L99.92,233.39 L100.19,233.45 L100.47,233.74 L100.74,233.76 L101.02,233.67 L101.29,233.76 L101.57,233.49 L101.84,232.99 L102.11,232.99 L102.39,232.98 L102.66,233.02 L102.94,232.78 L103.21,233.21 L103.49,233.17 L103.76,233.24 L104.03,232.93 L104.31,232.82 L104.58,232.19 L104.86,232.61 L105.13,233.07 L105.41,233.05 L105.68,233.67 L105.95,233.97 L106.23,233.51 L106.50,233.47 L106.78,234.09 L107.05,233.79 L107.33,233.75 L107.60,233.96 L107.87,233.57 L108.15,233.27 L108.42,233.63 L108.70,233.65 L108.97,233.79 L109.25,234.13 L109.52,233.81 L109.79,233.46 L110.07,233.31 L110.34,233.29 L110.62,233.05 L110.89,233.36 L111.17,233.51 L111.44,233.53 L111.71,233.46 L111.99,233.22 L112.26,232.86 L112.54,232.16 L112.81,232.44 L113.09,232.01 L113.36,232.05 L113.63,232.06 L113.91,232.77 L114.18,232.50 L114.46,232.47 L114.73,232.40 L115.01,232.32 L115.28,232.00 L115.55,231.58 L115.83,231.69 L116.10,232.09 L116.38,232.20 L116.65,232.51 L116.93,233.41 L117.20,233.46 L117.47,232.62 L117.75,232.34 L118.02,232.05 L118.30,231.43 L118.57,230.95 L118.85,231.09 L119.12,230.97 L119.40,230.61 L119.67,230.28 L119.94,230.23 L120.22,230.03 L120.49,229.87 L120.77,229.97 L121.04,229.75 L121.32,229.97 L121.59,229.73 L121.86,229.83 L122.14,229.41 L122.41,229.30 L122.69,229.21 L122.96,228.85 L123.24,228.02 L123.51,227.87 L123.78,227.47 L124.06,226.87 L124.33,227.60 L124.61,227.42 L124.88,226.89 L125.16,226.60 L125.43,226.47 L125.70,225.51 L125.98,225.16 L126.25,224.44 L126.53,223.94 L126.80,223.26 L127.08,221.81 L127.35,220.84 L127.62,220.13 L127.90,219.55 L128.17,218.15 L128.45,217.22 L128.72,215.84 L129.00,214.55 L129.27,213.07 L129.54,212.07 L129.82,211.03 L130.09,209.98 L130.37,208.82 L130.64,207.21 L130.92,205.83 L131.19,204.49 L131.46,203.27 L131.74,202.13 L132.01,200.81 L132.29,199.72 L132.56,198.59 L132.84,197.44 L133.11,196.44 L133.38,195.71 L133.66,194.53 L133.93,193.53 L134.21,192.40 L134.48,191.11 L134.76,189.97 L135.03,189.93 L135.30,189.31 L135.58,188.86 L135.85,188.04 L136.13,187.65 L136.40,186.59 L136.68,185.62 L136.95,184.91 L137.22,184.66 L137.50,183.86 L137.77,183.41 L138.05,183.38 L138.32,182.86 L138.60,181.94 L138.87,181.69 L139.14,181.39 L139.42,181.06 L139.69,180.74 L139.97,181.11 L140.24,180.95 L140.52,180.28 L140.79,179.90 L141.06,179.39 L141.34,178.43 L141.61,177.79 L141.89,177.65 L142.16,176.73 L142.44,176.71 L142.71,176.88 L142.98,176.94 L143.26,176.76 L143.53,176.57 L143.81,176.02 L144.08,175.80 L144.36,175.40 L144.63,175.22 L144.91,175.87 L145.18,176.52 L145.45,176.66 L145.73,176.80 L146.00,177.15 L146.28,177.61 L146.55,177.92 L146.83,179.18 L147.10,180.34 L147.37,181.06 L147.65,182.12 L147.92,183.35 L148.20,184.91 L148.47,186.13 L148.75,188.17 L149.02,189.81 L149.29,190.84 L149.57,191.14 L149.84,192.09 L150.12,192.88 L150.39,193.48 L150.67,194.65 L150.94,195.50 L151.21,195.80 L151.49,196.21 L151.76,197.14 L152.04,197.92 L152.31,198.75 L152.59,199.97 L152.86,200.95 L153.13,201.43 L153.41,202.10 L153.68,202.53 L153.96,202.15 L154.23,201.55 L154.51,201.57 L154.78,201.10 L155.05,201.26 L155.33,201.47 L155.60,201.68 L155.88,201.68 L156.15,201.94 L156.43,201.55 L156.70,201.33 L156.97,201.03 L157.25,200.35 L157.52,200.23 L157.80,200.80 L158.07,200.93 L158.35,201.11 L158.62,201.64 L158.89,201.25 L159.17,201.25 L159.44,201.77 L159.72,202.28 L159.99,202.10 L160.27,202.30 L160.54,202.84 L160.81,202.36 L161.09,202.10 L161.36,202.06 L161.64,202.33 L161.91,202.05 L162.19,202.67 L162.46,202.32 L162.73,202.74 L163.01,202.38 L163.28,202.54 L163.56,202.33 L163.83,203.34 L164.11,203.46 L164.38,203.58 L164.65,203.70 L164.93,203.49 L165.20,203.03 L165.48,203.17 L165.75,203.48 L166.03,203.29 L166.30,203.53 L166.57,203.71 L166.85,203.65 L167.12,203.59 L167.40,203.70 L167.67,203.96 L167.95,203.84 L168.22,203.46 L168.49,203.71 L168.77,203.47 L169.04,203.32 L169.32,203.51 L169.59,203.51 L169.87,203.27 L170.14,202.93 L170.41,202.95 L170.69,202.63 L170.96,202.86 L171.24,202.90 L171.51,203.09 L171.79,202.94 L172.06,202.88 L172.34,202.82 L172.61,202.88 L172.88,203.02 L173.16,202.97 L173.43,202.87 L173.71,203.05 L173.98,202.81 L174.26,203.15 L174.53,203.01 L174.80,203.44 L175.08,203.63 L175.35,203.64 L175.63,203.02 L175.90,203.51 L176.18,203.52 L176.45,203.29 L176.72,203.53 L177.00,203.70 L177.27,203.55 L177.55,203.47 L177.82,203.19 L178.10,203.11 L178.37,203.10 L178.64,203.15 L178.92,203.26 L179.19,203.80 L179.47,203.23 L179.74,203.40 L180.02,203.14 L180.29,202.89 L180.56,202.45 L180.84,202.86 L181.11,202.37 L181.39,202.66 L181.66,203.01 L181.94,203.27 L182.21,203.58 L182.48,203.84 L182.76,203.44 L183.03,203.31 L183.31,203.40 L183.58,203.19 L183.86,203.06 L184.13,203.87 L184.40,203.54 L184.68,203.48 L184.95,203.18 L185.23,203.73 L185.50,203.18 L185.78,203.63 L186.05,203.62 L186.32,203.53 L186.60,203.10 L186.87,203.11 L187.15,202.96 L187.42,203.15 L187.70,203.53 L187.97,203.70 L188.24,203.62 L188.52,203.44 L188.79,203.25 L189.07,203.17 L189.34,203.16 L189.62,202.84 L189.89,202.40 L190.16,202.17 L190.44,202.31 L190.71,202.31 L190.99,202.71 L191.26,203.27 L191.54,203.24 L191.81,203.29 L192.08,203.13 L192.36,203.01 L192.63,202.78 L192.91,202.79 L193.18,202.71 L193.46,203.04 L193.73,203.06 L194.00,203.22 L194.28,203.12 L194.55,202.94 L194.83,203.02 L195.10,202.94 L195.38,203.10 L195.65,203.28 L195.92,203.33 L196.20,203.48 L196.47,203.46 L196.75,203.12 L197.02,203.00 L197.30,203.03 L197.57,202.66 L197.84,202.89 L198.12,202.98 L198.39,203.07 L198.67,202.96 L198.94,203.14 L199.22,202.87 L199.49,202.78 L199.77,202.69 L200.04,202.81 L200.31,202.42 L200.59,202.84 L200.86,202.77 L201.14,202.69 L201.41,202.53 L201.69,202.56 L201.96,202.34 L202.23,202.50 L202.51,202.41 L202.78,202.38 L203.06,202.42 L203.33,202.61 L203.61,202.43 L203.88,202.32 L204.15,202.19 L204.43,202.18 L204.70,202.19 L204.98,202.10 L205.25,202.39 L205.53,203.17 L205.80,203.14 L206.07,203.13 L206.35,203.62 L206.62,203.73 L206.90,202.89 L207.17,203.05 L207.45,202.67 L207.72,202.00 L207.99,201.51 L208.27,201.76 L208.54,201.68 L208.82,201.97 L209.09,202.46 L209.37,202.66 L209.64,202.50 L209.91,202.38 L210.19,201.83 L210.46,201.80 L210.74,201.85 L211.01,201.73 L211.29,201.57 L211.56,201.51 L211.83,201.20 L212.11,201.21 L212.38,201.24 L212.66,201.54 L212.93,202.08 L213.21,201.99 L213.48,201.89 L213.75,201.96 L214.03,202.17 L214.30,201.95 L214.58,202.26 L214.85,202.50 L215.13,203.12 L215.40,202.88 L215.67,202.66 L215.95,202.50 L216.22,202.50 L216.50,202.07 L216.77,201.89 L217.05,202.75 L217.32,202.92 L217.59,202.73 L217.87,202.63 L218.14,202.48 L218.42,201.68 L218.69,201.65 L218.97,201.76 L219.24,201.79 L219.51,202.34 L219.79,202.66 L220.06,202.59 L220.34,202.28 L220.61,202.55 L220.89,202.50 L221.16,202.51 L221.43,202.47 L221.71,202.96 L221.98,202.63 L222.26,202.86 L222.53,202.97 L222.81,203.33 L223.08,203.18 L223.35,203.29 L223.63,203.44 L223.90,203.62 L224.18,203.53 L224.45,203.87 L224.73,204.46 L225.00,203.93 L225.27,203.64 L225.55,203.63 L225.82,203.62 L226.10,203.08 L226.37,203.39 L226.65,203.28 L226.92,203.62 L227.19,203.72 L227.47,203.93 L227.74,204.06 L228.02,204.17 L228.29,203.94 L228.57,203.98 L228.84,204.04 L229.12,203.98 L229.39,203.96 L229.66,204.18 L229.94,204.10 L230.21,203.96 L230.49,203.51 L230.76,203.39 L231.04,203.35 L231.31,203.32 L231.58,203.37 L231.86,204.00 L232.13,204.78 L232.41,204.88 L232.68,204.95 L232.96,205.58 L233.23,206.03 L233.50,206.25 L233.78,206.25 L234.05,206.63 L234.33,206.41 L234.60,205.93 L234.88,205.41 L235.15,205.56 L235.42,205.21 L235.70,205.31 L235.97,205.36 L236.25,205.65 L236.52,205.26 L236.80,205.31 L237.07,205.20 L237.34,205.13 L237.62,204.89 L237.89,204.91 L238.17,205.19 L238.44,205.18 L238.72,205.12 L238.99,204.44 L239.26,204.32 L239.54,203.92 L239.81,203.46 L240.09,202.86 L240.36,203.40 L240.64,203.62 L240.91,203.26 L241.18,203.31 L241.46,203.62 L241.73,203.69 L242.01,203.19 L242.28,203.09 L242.56,203.08 L242.83,203.08 L243.10,203.42 L243.38,203.71 L243.65,204.14 L243.93,204.17 L244.20,204.18 L244.48,203.81 L244.75,204.33 L245.02,204.21 L245.30,204.48 L245.57,204.71 L245.85,204.77 L246.12,204.48 L246.40,205.08 L246.67,204.65 L246.94,204.53 L247.22,204.16 L247.49,203.65 L247.77,203.15 L248.04,203.82 L248.32,204.08 L248.59,204.59 L248.86,205.15 L249.14,205.14 L249.41,205.19 L249.69,204.92 L249.96,205.00 L250.24,204.83 L250.51,204.87 L250.78,204.51 L251.06,204.61 L251.33,204.40 L251.61,204.61 L251.88,204.96 L252.16,204.91 L252.43,204.50 L252.70,203.96 L252.98,203.55 L253.25,203.04 L253.53,203.20 L253.80,203.30 L254.08,203.77 L254.35,204.09 L254.62,204.32 L254.90,204.17 L255.17,204.60 L255.45,204.62 L255.72,204.86 L256.00,204.89 L256.27,204.42 L256.55,204.36 L256.82,204.41 L257.09,204.07 L257.37,203.84 L257.64,204.60 L257.92,204.65 L258.19,204.41 L258.47,204.48 L258.74,204.63 L259.01,204.06 L259.29,204.17 L259.56,204.37 L259.84,204.56 L260.11,204.28 L260.39,204.97 L260.66,204.89 L260.93,204.94 L261.21,204.60 L261.48,204.71 L261.76,203.90 L262.03,204.02 L262.31,203.65 L262.58,203.79 L262.85,203.99 L263.13,204.09 L263.40,203.87 L263.68,204.41 L263.95,204.35 L264.23,204.45 L264.50,204.63 L264.77,204.27 L265.05,203.66 L265.32,203.15 L265.60,202.79 L265.87,202.90 L266.15,203.07 L266.42,203.26 L266.69,203.80 L266.97,203.58 L267.24,203.47 L267.52,203.82 L267.79,203.56 L268.07,203.40 L268.34,203.50 L268.61,203.42 L268.89,202.94 L269.16,203.17 L269.44,202.96 L269.71,203.03 L269.99,203.05 L270.26,203.19 L270.53,203.61 L270.81,204.00 L271.08,204.24 L271.36,204.43 L271.63,204.97 L271.91,204.44 L272.18,204.53 L272.45,204.89 L272.73,205.46 L273.00,205.37 L273.28,205.90 L273.55,206.23 L273.83,206.10 L274.10,206.01 L274.37,205.98 L274.65,206.27 L274.92,206.27 L275.20,206.22 L275.47,205.84 L275.75,206.50 L276.02,206.77 L276.29,207.26 L276.57,207.63 L276.84,208.77 L277.12,208.97 L277.39,209.81 L277.67,210.77 L277.94,212.08 L278.21,212.86 L278.49,214.14 L278.76,215.38 L279.04,216.19 L279.31,217.33 L279.59,218.66 L279.86,219.97 L280.13,221.15 L280.41,222.27 L280.68,223.57 L280.96,224.93 L281.23,226.13 L281.51,227.28 L281.78,228.97 L282.06,230.74 L282.33,232.28 L282.60,233.16 L282.88,234.64 L283.15,235.64 L283.43,236.88 L283.70,237.89 L283.98,239.73 L284.25,240.81 L284.52,241.52 L284.80,242.24 L285.07,243.56 L285.35,244.45 L285.62,245.34 L285.90,246.62 L286.17,247.90 L286.44,249.17 L286.72,250.21 L286.99,251.28 L287.27,252.52 L287.54,253.13 L287.82,253.67 L288.09,254.43 L288.36,255.68 L288.64,256.51 L288.91,257.34 L289.19,258.07 L289.46,259.02 L289.74,259.57 L290.01,260.19 L290.28,261.69 L290.56,262.71 L290.83,263.49 L291.11,264.19 L291.38,265.50 L291.66,266.06 L291.93,266.92 L292.20,267.82 L292.48,268.84 L292.75,268.39 L293.03,267.86 L293.30,266.99 L293.58,266.63 L293.85,266.04 L294.12,265.04 L294.40,264.66 L294.67,263.86 L294.95,262.94 L295.22,261.68 L295.50,260.37 L295.77,258.74 L296.04,257.88 L296.32,256.53 L296.59,255.81 L296.87,255.34 L297.14,254.50 L297.42,253.84 L297.69,252.87 L297.96,252.01 L298.24,250.82 L298.51,250.22 L298.79,249.18 L299.06,248.45 L299.34,247.37 L299.61,246.78 L299.88,245.81 L300.16,244.89 L300.43,244.53 L300.71,243.60 L300.98,242.57 L301.26,241.76 L301.53,240.74 L301.80,239.15 L302.08,238.56 L302.35,237.98 L302.63,237.41 L302.90,236.52 L303.18,236.41 L303.45,235.41 L303.72,234.75 L304.00,234.31 L304.27,233.65 L304.55,233.25 L304.82,233.69 L305.10,233.52 L305.37,232.96 L305.64,232.86 L305.92,232.83 L306.19,232.34 L306.47,231.99 L306.74,232.23 L307.02,232.43 L307.29,232.36 L307.56,232.58 L307.84,232.86 L308.11,232.72 L308.39,232.81 L308.66,232.95 L308.94,232.94 L309.21,232.60 L309.48,232.59 L309.76,232.41 L310.03,232.04 L310.31,231.84 L310.58,231.60 L310.86,231.84 L311.13,231.88 L311.41,232.23 L311.68,231.97 L311.95,232.11 L312.23,232.37 L312.50,232.78 L312.78,232.58 L313.05,232.83 L313.33,233.06 L313.60,232.66 L313.87,232.37 L314.15,232.39 L314.42,232.59 L314.70,232.55 L314.97,233.04 L315.25,233.00 L315.52,233.36 L315.79,233.12 L316.07,233.39 L316.34,233.08 L316.62,233.13 L316.89,233.09 L317.17,233.50 L317.44,233.78 L317.71,233.59 L317.99,233.55 L318.26,233.12 L318.54,232.94 L318.81,232.36 L319.09,232.34 L319.36,232.46 L319.63,232.55 L319.91,232.28 L320.18,232.57 L320.46,232.62 L320.73,232.63 L321.01,232.73 L321.28,233.15 L321.55,232.84 L321.83,232.87 L322.10,232.72 L322.38,232.91 L322.65,232.63 L322.93,232.85 L323.20,232.75" fill="none" stroke="#3d6fc0" stroke-width="1.5" stroke-linejoin="round"/>
<line x1="48.9" y1="215.5" x2="323.2" y2="215.5" stroke="#111" stroke-width="1.1"/>
<line x1="48.9" y1="160" x2="323.3" y2="160" stroke="#666" stroke-width="1.2"/>
<polyline points="48.7,159.4 48.7,284.8 323.3,284.8 323.3,159.4" fill="none" stroke="#222" stroke-width="1.2"/>
<g font-size="10.5" fill="#111">
<line x1="48.90" y1="285.00" x2="51.70" y2="285.00" stroke="#444" stroke-width="1"/>
<text x="39.5" y="288.80" text-anchor="end">-10</text>
<line x1="48.90" y1="260.00" x2="51.70" y2="260.00" stroke="#444" stroke-width="1"/>
<text x="39.5" y="263.80" text-anchor="end">-5</text>
<line x1="48.90" y1="235.00" x2="51.70" y2="235.00" stroke="#444" stroke-width="1"/>
<text x="39.5" y="238.80" text-anchor="end">0</text>
<line x1="48.90" y1="210.00" x2="51.70" y2="210.00" stroke="#444" stroke-width="1"/>
<text x="39.5" y="213.80" text-anchor="end">5</text>
<line x1="48.90" y1="185.00" x2="51.70" y2="185.00" stroke="#444" stroke-width="1"/>
<text x="39.5" y="188.80" text-anchor="end">10</text>
<line x1="48.90" y1="160.00" x2="51.70" y2="160.00" stroke="#444" stroke-width="1"/>
<text x="39.5" y="163.80" text-anchor="end">15</text>
<line x1="48.90" y1="285" x2="48.90" y2="282.2" stroke="#444" stroke-width="1"/>
<text x="48.90" y="301.5" text-anchor="middle">0</text>
<line x1="76.33" y1="285" x2="76.33" y2="282.2" stroke="#444" stroke-width="1"/>
<text x="76.33" y="301.5" text-anchor="middle">1</text>
<line x1="103.76" y1="285" x2="103.76" y2="282.2" stroke="#444" stroke-width="1"/>
<text x="103.76" y="301.5" text-anchor="middle">2</text>
<line x1="131.19" y1="285" x2="131.19" y2="282.2" stroke="#444" stroke-width="1"/>
<text x="131.19" y="301.5" text-anchor="middle">3</text>
<line x1="158.62" y1="285" x2="158.62" y2="282.2" stroke="#444" stroke-width="1"/>
<text x="158.62" y="301.5" text-anchor="middle">4</text>
<line x1="186.05" y1="285" x2="186.05" y2="282.2" stroke="#444" stroke-width="1"/>
<text x="186.05" y="301.5" text-anchor="middle">5</text>
<line x1="213.48" y1="285" x2="213.48" y2="282.2" stroke="#444" stroke-width="1"/>
<text x="213.48" y="301.5" text-anchor="middle">6</text>
<line x1="240.91" y1="285" x2="240.91" y2="282.2" stroke="#444" stroke-width="1"/>
<text x="240.91" y="301.5" text-anchor="middle">7</text>
<line x1="268.34" y1="285" x2="268.34" y2="282.2" stroke="#444" stroke-width="1"/>
<text x="268.34" y="301.5" text-anchor="middle">8</text>
<line x1="295.77" y1="285" x2="295.77" y2="282.2" stroke="#444" stroke-width="1"/>
<text x="295.77" y="301.5" text-anchor="middle">9</text>
<line x1="323.20" y1="285" x2="323.20" y2="282.2" stroke="#444" stroke-width="1"/>
<text x="323.20" y="301.5" text-anchor="middle">10</text>
</g>
<g font-size="12" fill="#111">
<text x="57.9" y="174.7">Max buoyancy</text>
<text x="173.6" y="192.8">Steady buoyancy</text>
<text x="260.3" y="269.7">Adhesion</text>
<text x="164" y="320.4" font-size="12.3">Time (s)</text>
<text transform="translate(17,223.3) rotate(-90)" text-anchor="middle" font-size="12.2">Vertical force (mN)</text>
</g>
<g font-size="10.6" fill="#111">
<text x="150.2" y="224.3">Body weight</text>
<text x="161.7" y="254.7">Original data</text>
<text x="161" y="272">Filtered data</text>
</g>
<line x1="134.5" y1="251.1" x2="154" y2="251.1" stroke="#ccd5e6" stroke-width="1.2"/>
<line x1="134.5" y1="268.1" x2="154" y2="268.1" stroke="#3d6fc0" stroke-width="1.8"/>

<!-- ===== right chart ===== -->
<line x1="432.42" y1="138.96" x2="752.10" y2="42.52" stroke="#c9a02a" stroke-width="1.3"/><line x1="432.42" y1="173.34" x2="752.10" y2="87.21" stroke="#26467c" stroke-width="1.3"/><line x1="433.16" y1="213.87" x2="752.10" y2="266.51" stroke="#666" stroke-width="1.3"/>
<path d="M432.42,153.03V159.35M429.02,153.03H435.82M429.02,159.35H435.82" stroke="#3a3a3a" stroke-width="1.15" fill="none"/>
<circle cx="432.42" cy="156.19" r="2.2" fill="#d39e1a"/>
<path d="M486.07,118.21V123.55M482.67,118.21H489.47M482.67,123.55H489.47" stroke="#3a3a3a" stroke-width="1.15" fill="none"/>
<circle cx="486.07" cy="120.88" r="2.2" fill="#d39e1a"/>
<path d="M522.33,112.24V114.35M518.93,112.24H525.73M518.93,114.35H525.73" stroke="#3a3a3a" stroke-width="1.15" fill="none"/>
<circle cx="522.33" cy="113.30" r="2.2" fill="#d39e1a"/>
<path d="M535.65,94.90V105.43M532.25,94.90H539.05M532.25,105.43H539.05" stroke="#3a3a3a" stroke-width="1.15" fill="none"/>
<circle cx="535.65" cy="100.17" r="2.2" fill="#d39e1a"/>
<path d="M541.20,98.91V102.42M537.80,98.91H544.60M537.80,102.42H544.60" stroke="#3a3a3a" stroke-width="1.15" fill="none"/>
<circle cx="541.20" cy="100.66" r="2.2" fill="#d39e1a"/>
<path d="M576.35,98.55V101.36M572.95,98.55H579.75M572.95,101.36H579.75" stroke="#3a3a3a" stroke-width="1.15" fill="none"/>
<circle cx="576.35" cy="99.96" r="2.2" fill="#d39e1a"/>
<path d="M608.54,61.14V65.07M605.14,61.14H611.94M605.14,65.07H611.94" stroke="#3a3a3a" stroke-width="1.15" fill="none"/>
<circle cx="608.54" cy="63.10" r="2.2" fill="#d39e1a"/>
<path d="M648.50,68.58V74.48M645.10,68.58H651.90M645.10,74.48H651.90" stroke="#3a3a3a" stroke-width="1.15" fill="none"/>
<circle cx="648.50" cy="71.53" r="2.2" fill="#d39e1a"/>
<path d="M695.12,65.00V74.83M691.72,65.00H698.52M691.72,74.83H698.52" stroke="#3a3a3a" stroke-width="1.15" fill="none"/>
<circle cx="695.12" cy="69.91" r="2.2" fill="#d39e1a"/>
<path d="M716.95,29.83V58.61M713.55,29.83H720.35M713.55,58.61H720.35" stroke="#3a3a3a" stroke-width="1.15" fill="none"/>
<circle cx="716.95" cy="44.22" r="2.2" fill="#d39e1a"/>
<path d="M744.70,67.88V74.90M741.30,67.88H748.10M741.30,74.90H748.10" stroke="#3a3a3a" stroke-width="1.15" fill="none"/>
<circle cx="744.70" cy="71.39" r="2.2" fill="#d39e1a"/>
<path d="M751.73,23.79V41.76M748.33,23.79H755.13M748.33,41.76H755.13" stroke="#3a3a3a" stroke-width="1.15" fill="none"/>
<circle cx="751.73" cy="32.78" r="2.2" fill="#d39e1a"/>
<path d="M432.42,164.54V168.47M429.02,164.54H435.82M429.02,168.47H435.82" stroke="#3a3a3a" stroke-width="1.15" fill="none"/>
<path d="M432.42,163.51L435.42,166.51L432.42,169.51L429.42,166.51Z" fill="#2b4c82"/>
<path d="M486.07,153.45V157.38M482.67,153.45H489.47M482.67,157.38H489.47" stroke="#3a3a3a" stroke-width="1.15" fill="none"/>
<path d="M486.07,152.42L489.07,155.42L486.07,158.42L483.07,155.42Z" fill="#2b4c82"/>
<path d="M522.33,144.75V144.75M518.93,144.75H525.73M518.93,144.75H525.73" stroke="#3a3a3a" stroke-width="1.15" fill="none"/>
<path d="M522.33,141.75L525.33,144.75L522.33,147.75L519.33,144.75Z" fill="#2b4c82"/>
<path d="M534.54,135.76V141.38M531.14,135.76H537.94M531.14,141.38H537.94" stroke="#3a3a3a" stroke-width="1.15" fill="none"/>
<path d="M534.54,135.57L537.54,138.57L534.54,141.57L531.54,138.57Z" fill="#2b4c82"/>
<path d="M538.24,141.03V144.96M534.84,141.03H541.64M534.84,144.96H541.64" stroke="#3a3a3a" stroke-width="1.15" fill="none"/>
<path d="M538.24,139.99L541.24,142.99L538.24,145.99L535.24,142.99Z" fill="#2b4c82"/>
<path d="M576.35,136.04V139.97M572.95,136.04H579.75M572.95,139.97H579.75" stroke="#3a3a3a" stroke-width="1.15" fill="none"/>
<path d="M576.35,135.01L579.35,138.01L576.35,141.01L573.35,138.01Z" fill="#2b4c82"/>
<path d="M608.54,106.77V114.21M605.14,106.77H611.94M605.14,114.21H611.94" stroke="#3a3a3a" stroke-width="1.15" fill="none"/>
<path d="M608.54,107.49L611.54,110.49L608.54,113.49L605.54,110.49Z" fill="#2b4c82"/>
<path d="M648.50,107.33V111.54M645.10,107.33H651.90M645.10,111.54H651.90" stroke="#3a3a3a" stroke-width="1.15" fill="none"/>
<path d="M648.50,106.44L651.50,109.44L648.50,112.44L645.50,109.44Z" fill="#2b4c82"/>
<path d="M694.75,100.52V104.73M691.35,100.52H698.15M691.35,104.73H698.15" stroke="#3a3a3a" stroke-width="1.15" fill="none"/>
<path d="M694.75,99.63L697.75,102.63L694.75,105.63L691.75,102.63Z" fill="#2b4c82"/>
<path d="M716.95,102.91V107.12M713.55,102.91H720.35M713.55,107.12H720.35" stroke="#3a3a3a" stroke-width="1.15" fill="none"/>
<path d="M716.95,102.01L719.95,105.01L716.95,108.01L713.95,105.01Z" fill="#2b4c82"/>
<path d="M744.33,105.64V110.56M740.93,105.64H747.73M740.93,110.56H747.73" stroke="#3a3a3a" stroke-width="1.15" fill="none"/>
<path d="M744.33,105.10L747.33,108.10L744.33,111.10L741.33,108.10Z" fill="#2b4c82"/>
<path d="M751.36,78.62V82.83M747.96,78.62H754.76M747.96,82.83H754.76" stroke="#3a3a3a" stroke-width="1.15" fill="none"/>
<path d="M751.36,77.72L754.36,80.72L751.36,83.72L748.36,80.72Z" fill="#2b4c82"/>
<path d="M432.42,209.47V213.68M429.02,209.47H435.82M429.02,213.68H435.82" stroke="#5e5e5e" stroke-width="1.15" fill="none"/>
<path d="M432.42,207.68L435.82,214.28L429.02,214.28Z" fill="#7a7a7a"/>
<path d="M486.44,221.75V230.18M483.04,221.75H489.84M483.04,230.18H489.84" stroke="#5e5e5e" stroke-width="1.15" fill="none"/>
<path d="M486.44,222.07L489.84,228.67L483.04,228.67Z" fill="#7a7a7a"/>
<path d="M522.33,216.07V217.47M518.93,216.07H525.73M518.93,217.47H525.73" stroke="#5e5e5e" stroke-width="1.15" fill="none"/>
<polygon points="522.33,213.17 523.27,215.48 525.75,215.66 523.85,217.27 524.45,219.68 522.33,218.37 520.21,219.68 520.81,217.27 518.91,215.66 521.39,215.48" fill="#7a7a7a"/>
<path d="M534.54,223.51V231.93M531.14,223.51H537.94M531.14,231.93H537.94" stroke="#5e5e5e" stroke-width="1.15" fill="none"/>
<path d="M534.54,223.82L537.94,230.42L531.14,230.42Z" fill="#7a7a7a"/>
<path d="M537.50,231.93V234.74M534.10,231.93H540.90M534.10,234.74H540.90" stroke="#5e5e5e" stroke-width="1.15" fill="none"/>
<path d="M537.50,229.44L540.90,236.04L534.10,236.04Z" fill="#7a7a7a"/>
<path d="M577.09,237.90V240.01M573.69,237.90H580.49M573.69,240.01H580.49" stroke="#5e5e5e" stroke-width="1.15" fill="none"/>
<path d="M577.09,235.05L580.49,241.65L573.69,241.65Z" fill="#7a7a7a"/>
<path d="M608.54,258.61V261.42M605.14,258.61H611.94M605.14,261.42H611.94" stroke="#5e5e5e" stroke-width="1.15" fill="none"/>
<path d="M608.54,256.11L611.94,262.71L605.14,262.71Z" fill="#7a7a7a"/>
<path d="M648.13,242.46V249.48M644.73,242.46H651.53M644.73,249.48H651.53" stroke="#5e5e5e" stroke-width="1.15" fill="none"/>
<path d="M648.13,242.07L651.53,248.67L644.73,248.67Z" fill="#7a7a7a"/>
<path d="M695.49,263.31V268.37M692.09,263.31H698.89M692.09,268.37H698.89" stroke="#5e5e5e" stroke-width="1.15" fill="none"/>
<path d="M695.49,261.94L698.89,268.54L692.09,268.54Z" fill="#7a7a7a"/>
<path d="M716.95,257.84V286.90M713.55,257.84H720.35M713.55,286.90H720.35" stroke="#5e5e5e" stroke-width="1.15" fill="none"/>
<path d="M716.95,268.47L720.35,275.07L713.55,275.07Z" fill="#7a7a7a"/>
<path d="M744.33,259.52V271.04M740.93,259.52H747.73M740.93,271.04H747.73" stroke="#5e5e5e" stroke-width="1.15" fill="none"/>
<path d="M744.33,261.38L747.73,267.98L740.93,267.98Z" fill="#7a7a7a"/>
<path d="M751.73,240.92V252.85M748.33,240.92H755.13M748.33,252.85H755.13" stroke="#5e5e5e" stroke-width="1.15" fill="none"/>
<path d="M751.73,242.99L755.13,249.59L748.33,249.59Z" fill="#7a7a7a"/>
<rect x="389.5" y="9.5" width="370" height="280.7" fill="none" stroke="#2a2a2a" stroke-width="1.1"/>
<g font-size="10.5" fill="#111">
<line x1="389.50" y1="290.20" x2="392.30" y2="290.20" stroke="#222" stroke-width="1"/>
<text x="380" y="294.40" text-anchor="end">-15</text>
<line x1="389.50" y1="255.10" x2="392.30" y2="255.10" stroke="#222" stroke-width="1"/>
<text x="380" y="259.30" text-anchor="end">-10</text>
<line x1="389.50" y1="220.00" x2="392.30" y2="220.00" stroke="#222" stroke-width="1"/>
<text x="380" y="224.20" text-anchor="end">-5</text>
<line x1="389.50" y1="184.90" x2="392.30" y2="184.90" stroke="#222" stroke-width="1"/>
<text x="380" y="189.10" text-anchor="end">0</text>
<line x1="389.50" y1="149.80" x2="392.30" y2="149.80" stroke="#222" stroke-width="1"/>
<text x="380" y="154.00" text-anchor="end">5</text>
<line x1="389.50" y1="114.70" x2="392.30" y2="114.70" stroke="#222" stroke-width="1"/>
<text x="380" y="118.90" text-anchor="end">10</text>
<line x1="389.50" y1="79.60" x2="392.30" y2="79.60" stroke="#222" stroke-width="1"/>
<text x="380" y="83.80" text-anchor="end">15</text>
<line x1="389.50" y1="44.50" x2="392.30" y2="44.50" stroke="#222" stroke-width="1"/>
<text x="380" y="48.70" text-anchor="end">20</text>
<line x1="389.50" y1="9.40" x2="392.30" y2="9.40" stroke="#222" stroke-width="1"/>
<text x="380" y="13.60" text-anchor="end">25</text>
<line x1="389.50" y1="290.20" x2="389.50" y2="287.30" stroke="#222" stroke-width="1"/>
<text x="389.50" y="307.8" text-anchor="middle">0</text>
<line x1="463.50" y1="290.20" x2="463.50" y2="287.30" stroke="#222" stroke-width="1"/>
<text x="463.50" y="307.8" text-anchor="middle">0.2</text>
<line x1="537.50" y1="290.20" x2="537.50" y2="287.30" stroke="#222" stroke-width="1"/>
<text x="537.50" y="307.8" text-anchor="middle">0.4</text>
<line x1="611.50" y1="290.20" x2="611.50" y2="287.30" stroke="#222" stroke-width="1"/>
<text x="611.50" y="307.8" text-anchor="middle">0.6</text>
<line x1="685.50" y1="290.20" x2="685.50" y2="287.30" stroke="#222" stroke-width="1"/>
<text x="685.50" y="307.8" text-anchor="middle">0.8</text>
<line x1="759.50" y1="290.20" x2="759.50" y2="287.30" stroke="#222" stroke-width="1"/>
<text x="759.50" y="307.8" text-anchor="middle">1</text>
</g>
<g font-size="12" fill="#111">
<text x="532.4" y="320.8" font-size="12.2">Body mass <tspan font-style="italic">m</tspan>(g)</text>
<text transform="translate(358,150.1) rotate(-90)" text-anchor="middle">Force <tspan font-style="italic">F</tspan>(mN)</text>
</g>
<g font-size="10.5" fill="#111">
<text x="640.7" y="32.8"><tspan font-style="italic">F</tspan> = 15.9m + 4.7</text>
<text x="658" y="46.2"><tspan font-style="italic">r</tspan><tspan font-size="7" dx="-0.4" dy="-3.5">2</tspan><tspan dy="3.5"> = 0.86</tspan></text>
<text x="660.3" y="134"><tspan font-style="italic">F</tspan> = 14.2m</text>
<text x="664.3" y="147.2"><tspan font-style="italic">r</tspan><tspan font-size="7" dx="-0.4" dy="-3.5">2</tspan><tspan dy="3.5"> = 0.98</tspan></text>
<text x="676.3" y="222.2"><tspan font-style="italic">F</tspan> = -8.7m - 3.1</text>
<text x="691.3" y="233.7"><tspan font-style="italic">r</tspan><tspan font-size="7" dx="-0.4" dy="-3.5">2</tspan><tspan dy="3.5"> = 0.75</tspan></text>
</g>
<text x="464.7" y="83.9" font-size="10.6" fill="#b39139" style="stroke:#b39139">Max buoyancy</text>
<text x="540.8" y="153.5" font-size="10.5" fill="#2f4d82" style="stroke:#2f4d82">Buoyancy</text>
<text x="423.4" y="234.9" font-size="10.6" fill="#808080" style="stroke:#808080">Adhesion</text>
</svg>
</body></html>
